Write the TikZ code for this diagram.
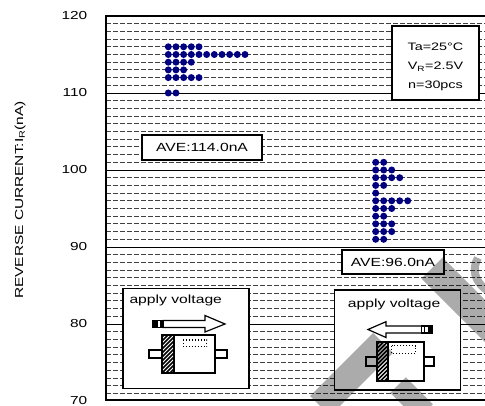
\documentclass[tikz,border=0pt]{standalone}
\usepackage{fontspec}
\setmainfont{Liberation Sans}[FakeStretch=1.33]
\usepackage{xcolor}
\usepackage{tikz}
\usetikzlibrary{calc}
\definecolor{dotNavy}{RGB}{0,0,128}
\tikzstyle{tsText} = [
    text=black,
    inner sep=0pt,
    font=\fontsize{11.8}{13}\selectfont
]
\tikzstyle{tsTick} = [
    tsText,
    anchor=east,
    font=\fontsize{11.6}{13}\selectfont
]
\tikzstyle{tsBox} = [
    rectangle,
    tsText,
    draw=black,
    fill=white,
    line width=1.6pt]
\tikzstyle{tsGridDash} = [black!75, line width=0.8pt, dash pattern=on 4.5pt off 2.5pt]
\tikzstyle{tsGridSolid} = [black, line width=0.9pt]
\tikzstyle{tsDot} = [fill=dotNavy]
\tikzstyle{tsArrow} = [draw=black, line width=1.2pt, fill=white, line join=miter]
\tikzstyle{tsBody} = [draw=black, line width=2pt, fill=white]
\tikzstyle{tsMark} = [draw=black, opacity=0.33, line cap=butt]

\begin{document}
\begin{tikzpicture}[x=1pt, y=-1pt]

        \useasboundingbox (0,0) rectangle (485,406);
        \clip (0,0) rectangle (485,406);

        % grid lines, one per nA
        \foreach \v in {71,...,119}
            \draw[tsGridDash] (106,{16+(120-\v)*7.7}) -- (485,{16+(120-\v)*7.7});
        \foreach \v in {80,90,100,110}
            \draw[tsGridSolid] (106,{16+(120-\v)*7.7}) -- (485,{16+(120-\v)*7.7});

        % frame
        \draw[line width=2pt] (485,16) -- (106,16) -- (106,400) -- (485,400);

        % axis
        \foreach \v in {70,80,...,120}
            \node[tsTick] (tick\v) at (87.5,{16+(120-\v)*7.7}) {\v};
        \node[tsText, rotate=90, font=\fontsize{11.6}{13}\selectfont] (ylabel) at (20,200)
            {REVERSE CURRENT:I\textsubscript{R}(nA)};

        % data, before
        \foreach \v/\n in {116/5, 115/11, 114/4, 113/3, 112/5, 110/2}
            \foreach \k in {1,...,\n}
                \fill[tsDot] ({168.3+7.67*(\k-1)},{16+(120-\v)*7.7}) circle (3.5);

        % data, after
        \foreach \v/\n in {101/2, 100/3, 99/4, 98/2, 97/1, 96/5, 95/3, 94/2, 93/3, 92/3, 91/2}
            \foreach \k in {1,...,\n}
                \fill[tsDot] ({375.7+8*(\k-1)},{16+(120-\v)*7.7}) circle (3.5);

        % averages
        \node[tsBox, minimum width=120, minimum height=25] (aveBefore) at (202,147.5) {AVE:114.0nA};
        \node[tsBox, minimum width=102, minimum height=24] (aveAfter) at (393,262) {AVE:96.0nA};

        % conditions
        \node[tsBox, minimum width=87, minimum height=74] (cond) at (435.5,63) { };
        \node[tsText, font=\fontsize{10.8}{12}\selectfont] (condTa) at (435.5,46.5) {Ta=25°C};
        \node[tsText, font=\fontsize{10.8}{12}\selectfont] (condVr) at (435.5,67) {V\textsubscript{R}=2.5V};
        \node[tsText, font=\fontsize{10.8}{12}\selectfont] (condN) at (435.5,86) {n=30pcs};

        % inset, forward
        \node[tsBox, line width=1.3pt, minimum width=126, minimum height=100] (insetA) at (186,338.5) { };
        \node[tsText, anchor=west] (applyA) at (129.3,300) {apply voltage};
        \draw[tsArrow] (163,320.5) -- (205,320.5) -- (205,315.5) -- (225,324) -- (205,332)
            -- (205,327.5) -- (163,327.5) -- cycle;
        \draw[tsArrow, fill=white] (152.7,320.5) rectangle (163,327.5);
        \fill (152.7,320.5) rectangle (157.7,327.5);
        \draw[line width=1.2pt] (161,320.5) -- (161,327.5);
        \draw[tsBody] (149.3,350) rectangle (161.7,358.3);
        \draw[tsBody] (215,350) rectangle (227.3,358.3);
        \draw[tsBody] (161.7,335) rectangle (215,373.3);
        \begin{scope}
            \clip (161.7,335) rectangle (174.3,373.3);
            \foreach \t in {-40,-36,...,20}
                \draw[line width=1.6pt] (161.7+\t,373.3) -- (161.7+\t+50,323.3);
        \end{scope}
        \draw[line width=2pt] (174.3,335) -- (174.3,373.3);
        \draw[line width=1pt, dotted] (183.3,340) rectangle (206.7,346.7);

        % inset, reverse
        \node[tsBox, line width=1.3pt, minimum width=126, minimum height=100] (insetB) at (397.5,340) { };
        \node[tsText, anchor=west] (applyB) at (347.7,304) {apply voltage};
        \draw[tsArrow] (421.7,326) -- (386,326) -- (386,321.7) -- (368,329.5) -- (386,337.5)
            -- (386,333) -- (421.7,333) -- cycle;
        \draw[tsArrow, fill=white] (421.7,326) rectangle (432.3,333);
        \fill (427.5,326) rectangle (432.3,333);
        \draw[line width=1.2pt] (424.3,326) -- (424.3,333);
        \draw[tsBody] (365.7,356.7) rectangle (376.7,365.7);
        \draw[tsBody] (424.3,356.7) rectangle (434,365.7);
        \draw[tsBody] (376.7,342.3) rectangle (424.3,380.7);
        \begin{scope}
            \clip (376.7,342.3) rectangle (387.7,380.7);
            \foreach \t in {-40,-36,...,20}
                \draw[line width=1.6pt] (376.7+\t,380.7) -- (376.7+\t+50,330.7);
        \end{scope}
        \draw[line width=2pt] (387.7,342.3) -- (387.7,380.7);
        \draw[line width=1pt, dotted] (391.7,345.7) rectangle (415.7,353.3);

        % watermark
        \draw[tsMark, line width=30pt] (432,268) -- (500,336);
        \draw[tsMark, line width=28pt] (383,343) -- (320,406);
        \draw[tsMark, line width=22pt] (398,385) -- (425,412);
        \draw[tsMark, line width=8pt] (478,258) .. controls (472,268) and (474,282) .. (487,290);

\end{tikzpicture}
\end{document}
